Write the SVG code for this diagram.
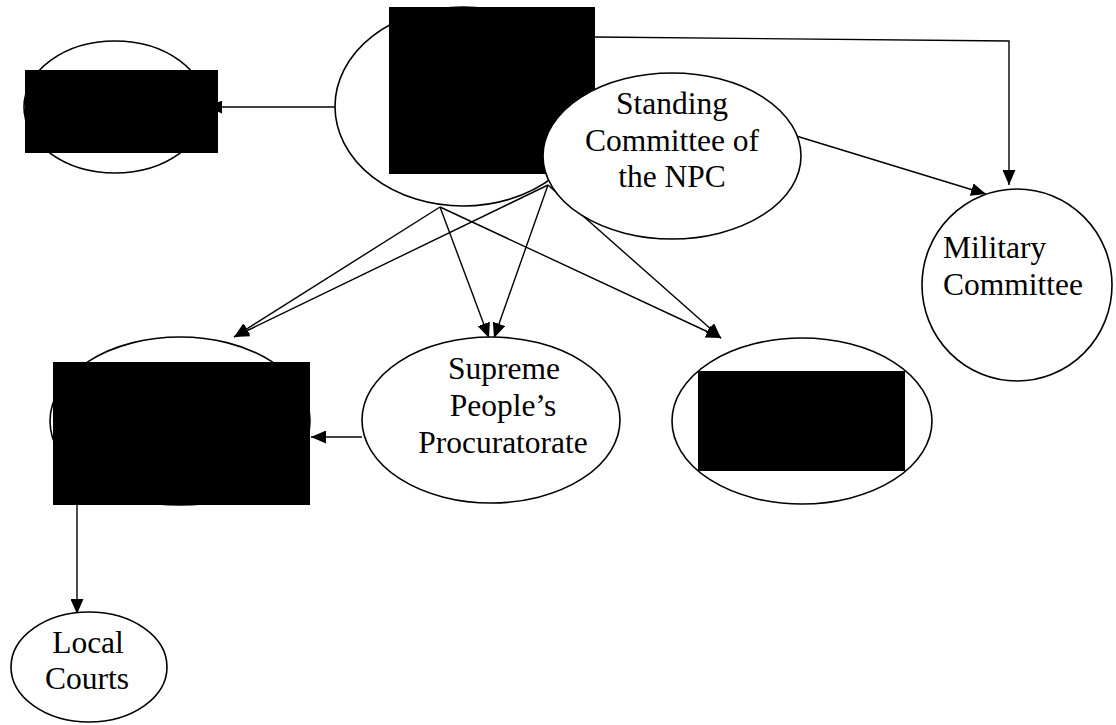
<svg xmlns="http://www.w3.org/2000/svg" width="1116" height="725" viewBox="0 0 1116 725">
<style>
.n{fill:#fff;stroke:#000;stroke-width:1.6}
.blk{fill:#000;stroke:none}
.c{fill:none;stroke:#000;stroke-width:1.4}
.t{font-family:"Liberation Serif","Times New Roman",serif;font-size:31.5px;fill:#000}
.m{text-anchor:middle}
</style>
<defs>
<marker id="ah" viewBox="0 0 15 13" refX="15" refY="6.5" markerWidth="15" markerHeight="13" markerUnits="userSpaceOnUse" orient="auto">
<path d="M0,0 L15,6.5 L0,13 Z" fill="#000"/>
</marker>
</defs>
<rect width="1116" height="725" fill="#fff"/>
<g id="connectors">
<line class="c" x1="335" y1="107" x2="207" y2="107" marker-end="url(#ah)"/>
<polyline class="c" points="595,37 1009,41 1009,185" marker-end="url(#ah)"/>
<line class="c" x1="793" y1="135" x2="986" y2="194" marker-end="url(#ah)"/>
<line class="c" x1="440" y1="207" x2="234" y2="337" marker-end="url(#ah)"/>
<line class="c" x1="548" y1="185" x2="234" y2="337" marker-end="url(#ah)"/>
<line class="c" x1="440" y1="207" x2="489" y2="338" marker-end="url(#ah)"/>
<line class="c" x1="548" y1="185" x2="494" y2="338" marker-end="url(#ah)"/>
<line class="c" x1="440" y1="207" x2="721" y2="338" marker-end="url(#ah)"/>
<line class="c" x1="548" y1="185" x2="721" y2="338" marker-end="url(#ah)"/>
<line class="c" x1="362" y1="437" x2="311" y2="437" marker-end="url(#ah)"/>
<line class="c" x1="77" y1="505" x2="77" y2="614" marker-end="url(#ah)"/>
</g>
<g id="node-left">
<ellipse class="n" cx="115" cy="107" rx="91" ry="66"/>
<rect class="blk" x="25" y="70" width="193" height="83"/>
</g>
<g id="node-npc">
<ellipse class="n" cx="463" cy="106.5" rx="128" ry="99.5"/>
<rect class="blk" x="389" y="7" width="206" height="167"/>
</g>
<g id="node-standing">
<ellipse class="n" cx="672" cy="156" rx="129" ry="83"/>
<text class="t m" x="672" y="114">Standing</text>
<text class="t m" x="672" y="151">Committee of</text>
<text class="t m" x="672" y="187">the NPC</text>
</g>
<g id="node-military">
<ellipse class="n" cx="1017" cy="285" rx="95" ry="96"/>
<text class="t" x="943" y="258">Military</text>
<text class="t" x="943" y="295">Committee</text>
</g>
<g id="node-court">
<ellipse class="n" cx="180" cy="421" rx="130" ry="84"/>
<rect class="blk" x="53" y="362" width="257" height="143"/>
</g>
<g id="node-procuratorate">
<ellipse class="n" cx="491" cy="420" rx="129" ry="83"/>
<text class="t m" x="504" y="379">Supreme</text>
<text class="t m" x="503" y="416">People’s</text>
<text class="t m" x="503" y="453">Procuratorate</text>
</g>
<g id="node-right">
<ellipse class="n" cx="802" cy="421" rx="130" ry="83"/>
<rect class="blk" x="698" y="371" width="207" height="100"/>
</g>
<g id="node-local">
<ellipse class="n" cx="89" cy="667" rx="78" ry="55"/>
<text class="t m" x="88" y="653">Local</text>
<text class="t m" x="87" y="689">Courts</text>
</g>
</svg>
